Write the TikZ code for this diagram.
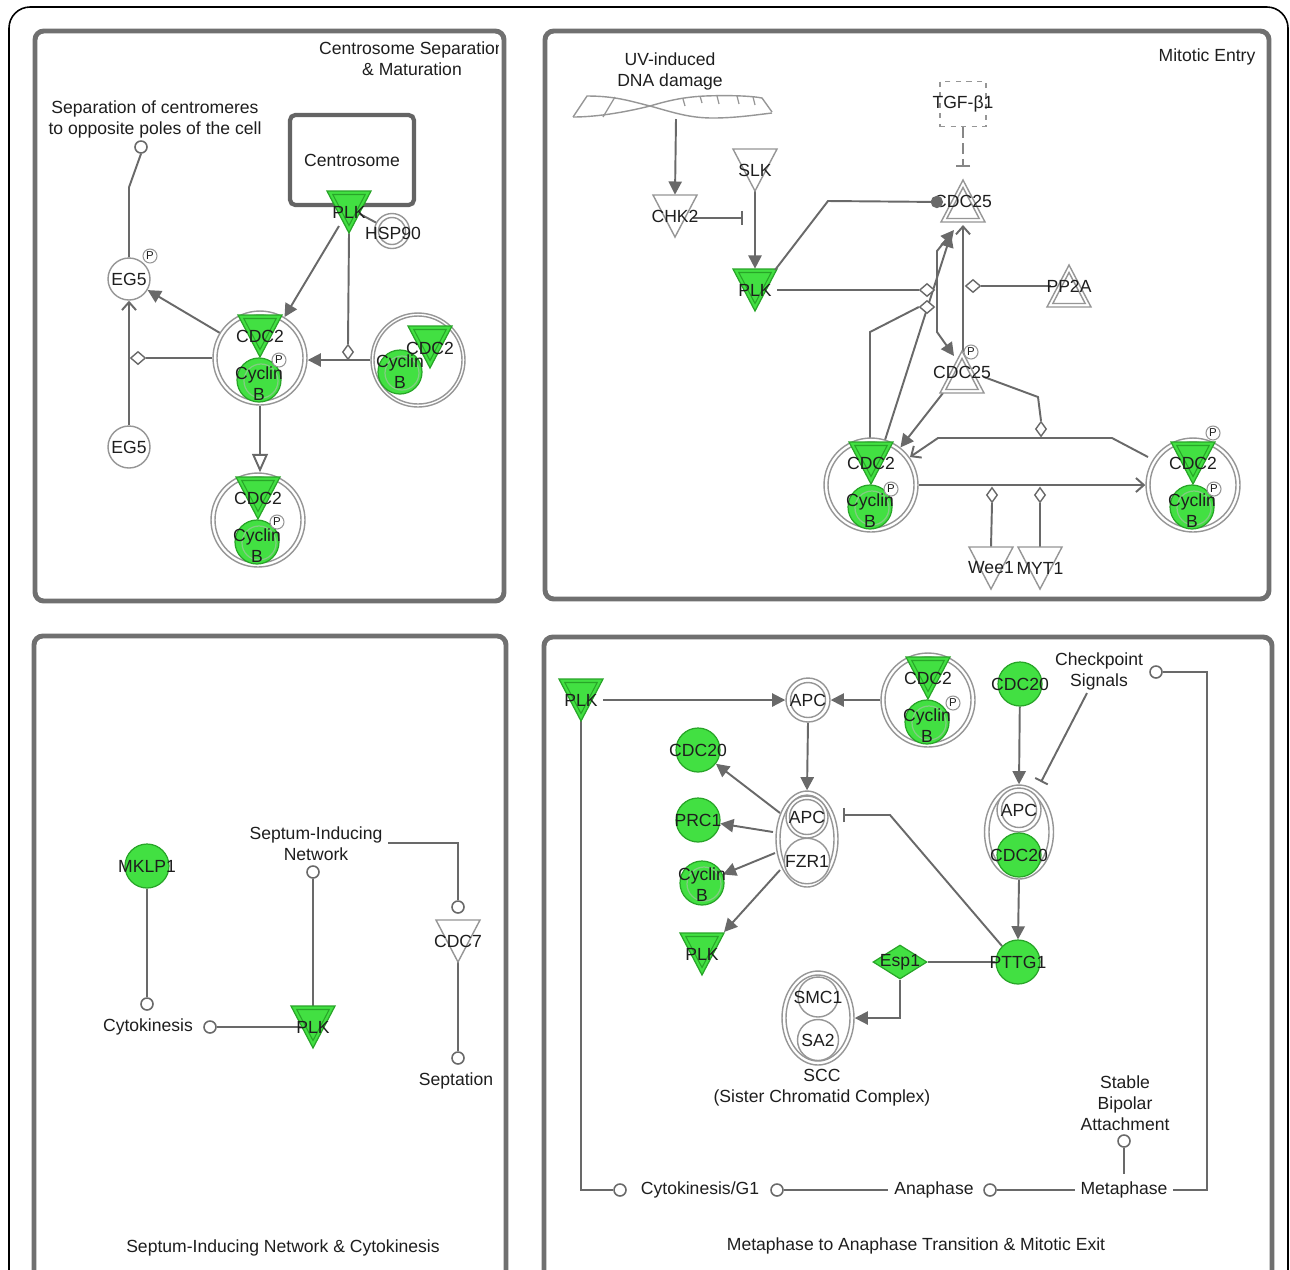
\documentclass[tikz,border=0pt]{standalone}
\usepackage{fontspec}
\setmainfont{Liberation Sans}
\usetikzlibrary{arrows.meta,calc,shapes.geometric}
\pgfdeclarelayer{bg}
\pgfdeclarelayer{edges}
\pgfsetlayers{bg,edges,main}
\definecolor{gfill}{RGB}{66,224,66}
\definecolor{gline}{RGB}{40,165,40}
\definecolor{cycin}{RGB}{130,205,130}
\definecolor{nline}{RGB}{150,150,150}
\definecolor{eline}{RGB}{105,105,105}
\definecolor{pline}{RGB}{112,112,112}
\definecolor{cbox}{RGB}{100,100,100}
\definecolor{txt}{RGB}{30,30,30}
\tikzset{
  lbl/.style={font=\fontsize{10}{12}\selectfont, text=txt, inner sep=0pt, align=center},
  edge/.style={draw=eline, line width=1.1pt},
  arr/.style={edge, -{Triangle[length=7.5pt,width=7.5pt]}},
  barb/.style={edge, -{Straight Barb[length=4.5pt,width=8pt]}},
  inh/.style={edge, -{Bar[width=8pt]}},
  panel/.style={draw=pline, line width=2.8pt, rounded corners=5pt},
  nodeline/.style={draw=nline, line width=0.8pt},
  term/.style={circle, draw=eline, fill=white, line width=0.9pt, minimum size=0.24cm, inner sep=0pt},
  pmark/.style={circle, draw=nline, fill=white, line width=0.6pt, minimum size=0.28cm, inner sep=0pt, font=\fontsize{6.5}{7}\selectfont, text=txt},
  dmd/.style={diamond, draw=eline, fill=white, line width=0.8pt, minimum width=0.3cm, minimum height=0.26cm, inner sep=0pt},
  dmdv/.style={dmd, minimum width=0.22cm, minimum height=0.3cm},
  gc/.style={circle, fill=gfill, draw=gline, line width=0.7pt, minimum size=0.88cm, inner sep=0pt, lbl},
  wc/.style={circle, fill=white, draw=nline, line width=0.8pt, minimum size=0.88cm, inner sep=0pt, lbl},
  cxo/.style={circle, fill=white, draw=nline, line width=0.8pt, minimum size=1.88cm, inner sep=0pt},
  tribox/.style={lbl, minimum width=0.88cm, minimum height=0.84cm},
}
\newcommand{\gtri}[4]{%
  \filldraw[fill=gfill, draw=gline, line width=0.7pt] (#2-22,#3-21) -- (#2+22,#3-21) -- (#2,#3+21) -- cycle;
  \draw[gline, line width=0.6pt] (#2-16.2,#3-17.5) -- (#2+16.2,#3-17.5) -- (#2,#3+13.5) -- cycle;
  \node[tribox] (#1) at (#2,#3) {#4};}
\newcommand{\otri}[4]{%
  \filldraw[fill=white, draw=nline, line width=0.8pt] (#2-22,#3-21) -- (#2+22,#3-21) -- (#2,#3+21) -- cycle;
  \node[tribox] (#1) at (#2,#3) {#4};}
\newcommand{\utri}[4]{%
  \filldraw[fill=white, draw=nline, line width=0.8pt] (#2-22,#3+21) -- (#2+22,#3+21) -- (#2,#3-21) -- cycle;
  \draw[nline, line width=0.8pt] (#2-16.2,#3+17.5) -- (#2+16.2,#3+17.5) -- (#2,#3-13.5) -- cycle;
  \node[tribox] (#1) at (#2,#3) {#4};}
\newcommand{\cyc}[4]{%
  \node[gc] (#1) at (#2,#3) {};
  \draw[cycin, line width=0.7pt] (#2+2,#3+1) circle[radius=17];
  \node[lbl] (#1l) at (#2,#3+#4) {Cyclin\\B};}
\newcommand{\cplx}[3]{%
  \node[cxo] (#1) at (#2,#3) {};
  \draw[nodeline] (#2,#3) circle[radius=43];
  \gtri{#1t}{#2}{#3-22}{CDC2}
  \cyc{#1c}{#2-1}{#3+22}{4}}
\newcommand{\dcn}[5]{%
  \node[wc, minimum size=#5] (#1) at (#2,#3) {};
  \draw[nodeline] (#2,#3) circle[radius=17.5];
  \node[lbl] (#1l) at (#2,#3) {#4};}
\begin{document}
\begin{tikzpicture}[x=0.02cm,y=-0.02cm]
\useasboundingbox (0,0) rectangle (1290,1269);
\begin{pgfonlayer}{bg}
\fill[white] (0,0) rectangle (1290,1269);
\end{pgfonlayer}
\draw[black, line width=0.9pt, rounded corners=12pt] (9,1300) -- (9,7) -- (1288,7) -- (1288,1300);

% ================= Panel 1
\begin{scope}
\clip (37,33) rectangle (498,120);
\node[lbl] (t1) at (412,58.5) {Centrosome Separation\\\& Maturation};
\end{scope}
\draw[panel] (35,31) rectangle (504,601);
\node[lbl] (sep) at (155,119) {Separation of centromeres\\to opposite poles of the cell};
\node[term] (sepc) at (141,147) {};
\node[lbl, draw=cbox, line width=2.4pt, rounded corners=3pt, minimum width=2.48cm, minimum height=1.8cm] (centro) at (352,160) {Centrosome};
\gtri{plka}{349}{212}{PLK}
\node[wc, minimum size=0.7cm] (hsp) at (392,231) {};
\draw[nodeline] (392,231) circle[radius=13.5];
\node[lbl] (hspl) at (393,233) {HSP90};
\node[wc, minimum size=0.84cm] (eg5a) at (129,279) {EG5};
\node[pmark] (p1) at (150,256) {P};
\node[wc, minimum size=0.84cm] (eg5b) at (129,447) {EG5};
\cplx{cxa}{260}{358}
\node[pmark] (p2) at (279,360) {P};
\node[cxo] (cxb) at (418,360) {};
\draw[nodeline] (418,360) circle[radius=44];
\gtri{cxbt}{430}{347}{}
\cyc{cxbc}{400}{372}{0}
\node[lbl] (cxbl) at (430,348) {CDC2};
\cplx{cxc}{258}{520}
\node[pmark] (p3) at (277,522) {P};
\node[dmdv] (d1) at (348,352) {};
\node[dmd] (d2) at (138,358) {};

% ================= Panel 2
\draw[panel] (545,31) rectangle (1269,599);
\node[lbl] (t2) at (1207,57) {Mitotic Entry};
\node[lbl] (uv) at (670,71.5) {UV-induced\\DNA damage};
\draw[nline, line width=0.8pt] (573,117) -- (587,96) .. controls (615,96) and (630,101) .. (650,106) .. controls (675,113) and (690,118) .. (713,118) .. controls (735,118) and (755,115) .. (772,113);
\draw[nline, line width=0.8pt] (573,117) .. controls (600,117) and (630,111) .. (650,106) .. controls (670,100) and (685,97) .. (705,96) .. controls (730,95) and (752,96) .. (762,98) -- (772,112);
\draw[nline, line width=0.7pt] (603,117) -- (615,97) (683,99) -- (685,106) (700,96) -- (702,103) (717,96) -- (719,104) (737,96) -- (739,104) (753,97) -- (755,105);
\coordinate (dna) at (676,119);
\otri{chk2}{675}{216}{CHK2}
\otri{slk}{755}{170}{SLK}
\gtri{plkb}{755}{290}{PLK}
\node[lbl, draw=nline, dashed, line width=0.8pt, minimum width=0.92cm, minimum height=0.9cm] (tgf) at (963,104) {\makebox[0pt]{TGF-β1}};
\utri{cdca}{963}{201}{CDC25}
\utri{pp2a}{1069}{286}{PP2A}
\utri{cdcb}{962}{372}{CDC25}
\node[pmark] (p4) at (971,352) {P};
\cplx{cxd}{871}{485}
\node[pmark] (p5) at (891,489) {P};
\cplx{cxe}{1193}{485}
\node[pmark] (p6) at (1214,489) {P};
\node[pmark] (p7) at (1213,433) {P};
\otri{wee}{991}{568}{Wee1}
\otri{myt}{1040}{568}{MYT1}
\node[dmd] (dA) at (927,290) {};
\node[dmd] (dB) at (973,286) {};
\node[dmd] (dC) at (927,307) {};
\node[dmdv] (dD) at (1041,429) {};
\node[dmdv] (dE) at (992,495) {};
\node[dmdv] (dF) at (1040,495) {};
\draw[edge, -{Circle[length=7pt]}] ($(plkb)+(20,-20)$) -- ($(cdca)+(-135,0)$) -- ($(cdca)+(-20,1)$);

% ================= Panel 3
\draw[panel] (34,636) rectangle (506,1300);
\node[gc] (mklp) at (147,866) {\makebox[0pt]{MKLP1}};
\node[term] (ma) at (147,1004) {};
\node[lbl] (cytok) at (148,1027) {Cytokinesis};
\node[term] (mb) at (210,1027) {};
\gtri{plkc}{313}{1027}{PLK}
\node[lbl] (sin) at (316,844) {Septum-Inducing\\Network};
\node[term] (sa) at (313,872) {};
\node[term] (sc) at (458,907) {};
\otri{cdc7}{458}{941}{CDC7}
\node[term] (sd) at (458,1058) {};
\node[lbl] (septa) at (456,1081) {Septation};
\node[lbl] (t3) at (283,1248) {Septum-Inducing Network \& Cytokinesis};

% ================= Panel 4
\draw[panel] (544,637) rectangle (1272,1300);
\gtri{plkd}{581}{700}{PLK}
\dcn{apca}{808}{700}{APC}{0.88cm}
\cplx{cxf}{928}{700}
\node[pmark] (p8) at (953,703) {P};
\node[ellipse, draw=nline, fill=white, line width=0.8pt, minimum width=1.24cm, minimum height=1.92cm, inner sep=0pt] (cxg) at (807,839) {};
\draw[nodeline] (807,839) ellipse[x radius=27, y radius=44];
\dcn{apcb}{807}{817}{APC}{0.84cm}
\node[wc, minimum size=0.84cm] (fzr) at (807,861) {FZR1};
\node[gc] (cdc20a) at (698,750) {\makebox[0pt]{CDC20}};
\node[gc] (prc1) at (698,820) {\makebox[0pt]{PRC1}};
\cyc{cycb}{702}{883}{2}
\gtri{plke}{702}{954}{PLK}
\node[gc] (cdc20b) at (1020,684) {\makebox[0pt]{CDC20}};
\node[lbl] (cks) at (1099,671) {Checkpoint\\Signals};
\node[term] (ck) at (1156,672) {};
\node[ellipse, draw=nline, fill=white, line width=0.8pt, minimum width=1.38cm, minimum height=1.88cm, inner sep=0pt] (cxh) at (1019,832) {};
\draw[nodeline] (1019,832) ellipse[x radius=30, y radius=43];
\dcn{apcc}{1019}{810}{APC}{0.88cm}
\node[gc] (cdc20c) at (1019,855) {\makebox[0pt]{CDC20}};
\node[gc] (pttg) at (1018,962) {\makebox[0pt]{PTTG1}};
\node[diamond, fill=gfill, draw=gline, line width=0.7pt, minimum width=1.08cm, minimum height=0.68cm, inner sep=0pt, lbl] (esp) at (900,962) {\makebox[0pt]{Esp1}};
\node[ellipse, draw=nline, fill=white, line width=0.8pt, minimum width=1.44cm, minimum height=1.88cm, inner sep=0pt] (scc) at (818,1018) {};
\draw[nodeline] (818,1018) ellipse[x radius=32, y radius=43];
\node[wc, minimum size=0.8cm] (smc) at (818,997) {\makebox[0pt]{SMC1}};
\node[wc, minimum size=0.82cm] (sa2) at (818,1040) {SA2};
\node[lbl] (sccl) at (822,1088) {SCC\\(Sister Chromatid Complex)};
\node[lbl] (sba) at (1125,1103) {Stable\\Bipolar\\Attachment};
\node[term] (sb) at (1124,1141) {};
\node[term] (ta) at (620,1190) {};
\node[lbl] (cytg) at (700,1190) {Cytokinesis/G1};
\node[term] (tb) at (777,1190) {};
\node[lbl] (ana) at (934,1190) {Anaphase};
\node[term] (tc) at (990,1190) {};
\node[lbl] (meta) at (1124,1190) {Metaphase};
\node[lbl] (t4) at (916,1246) {Metaphase to Anaphase Transition \& Mitotic Exit};

% ================= connectors
\begin{pgfonlayer}{edges}
% panel 1
\draw[edge] (sepc.south) -- ($(eg5a.north)+(0,-70)$) -- (eg5a.north);
\draw[edge] ($(plka)+(9,1)$) -- (hsp);
\draw[arr] ($(plka)+(-10,14)$) -- (cxa);
\draw[edge] (plka.south) -- (d1.north);
\draw[arr] (cxb.west) -- (cxb.west -| cxa.east);
\draw[arr] ($(cxa)+(-40,-25)$) -- (eg5a);
\draw[edge] (cxa.west) -- (d2.east);
\draw[barb] (eg5b) -- (eg5a);
\draw[edge, -{Triangle[open, length=10.5pt, width=9pt]}] (cxa.south) -- (cxa.south |- cxc.north);
% panel 2
\draw[arr] (dna) -- (chk2.north);
\coordinate (chkT) at (743,218);
\draw[inh] ($(chk2)+(18,2)$) -- (chkT);
\draw[arr] (slk.south) -- (plkb.north);
\draw[edge] (plkb.east) -- (dA.west);
\draw[edge] ($(pp2a)+(-18,0)$) -- (dB.east);
\draw[edge, line width=0.9pt, draw=nline!90!black, dash pattern=on 6pt off 3pt, -{Bar[width=8pt]}] (tgf.south) -- ($(cdca)+(0,-34)$);
\draw[edge, {Triangle[length=7.5pt,width=7.5pt]}-{Triangle[length=7.5pt,width=7.5pt]}] ($(cdca)+(-9,29)$) -- ($(cdca)+(-26,50)$) -- ($(cdcb)+(-25,-40)$) -- ($(cdcb)+(-8,-16)$);
\draw[barb] ($(cdcb)+(1,-20)$) -- ($(cdca)+(0,24)$);
\draw[arr] ($(cxd)+(14,-45)$) -- ($(cdca)+(-12,33)$);
\draw[edge] ($(cxd)+(-1,-47)$) -- ($(cxd)+(-1,-153)$) -- (dC.west);
\draw[arr] ($(cdcb)+(-19,21)$) -- (cxd);
\draw[edge] ($(cdcb)+(22,5)$) -- ($(dD)+(-3,-32)$) -- (dD.north);
\draw[barb] ($(cxe)+(-45,-28)$) -- ($(cxe)+(-81,-47)$) -- ($(cxd)+(67,-47)$) -- ($(cxd)+(39,-28)$);
\draw[barb] (cxd.east) -- (cxe.west);
\draw[edge] (wee.north) -- (dE.south);
\draw[edge] (myt.north) -- (dF.south);
% panel 3
\draw[edge] (mklp) -- (ma);
\draw[edge] (mb) -- ($(plkc)+(-12,0)$);
\draw[edge] (sa) -- (plkc.north);
\draw[edge] ($(sin)+(72,-1)$) -| (sc.north);
\draw[edge] (cdc7.south) -- (sd);
% panel 4
\draw[arr] (plkd.east) -- (apca.west);
\draw[arr] (cxf.west) -- (apca.east);
\draw[arr] (apca.south) -- (cxg.north);
\draw[arr] ($(cxg)+(-27,-26)$) -- (cdc20a);
\draw[arr] ($(cxg)+(-34,-7)$) -- (prc1);
\draw[arr] ($(cxg)+(-32,14)$) -- (cycb);
\draw[arr] ($(cxg)+(-27,31)$) -- ($(plke)+(22,-22)$);
\draw[inh] ($(pttg)+(-16,-16)$) -- ($(cxg)+(83,-24)$) -- ($(cxg)+(36,-24)$);
\draw[arr] (cdc20b) -- (cxh.north);
\draw[inh] ($(cks)+(-12,22)$) -- ($(cxh)+(22,-50)$);
\draw[edge] (ck.east) -| ($(meta.east)+(39,0)$) -- ($(meta.east)+(5,0)$);
\draw[arr] (cxh.south) -- (pttg.north);
\draw[edge] (pttg.west) -- (esp.east);
\draw[arr] (esp.south) |- (scc.east);
\draw[edge] (sb) -- ($(meta.north)+(0,-7)$);
\draw[edge] (plkd.south) |- (ta.west);
\draw[edge] (tb.east) -- ($(ana.west)+(-6,0)$);
\draw[edge] (tc.east) -- ($(meta.west)+(-5,0)$);
\end{pgfonlayer}
\end{tikzpicture}
\end{document}
